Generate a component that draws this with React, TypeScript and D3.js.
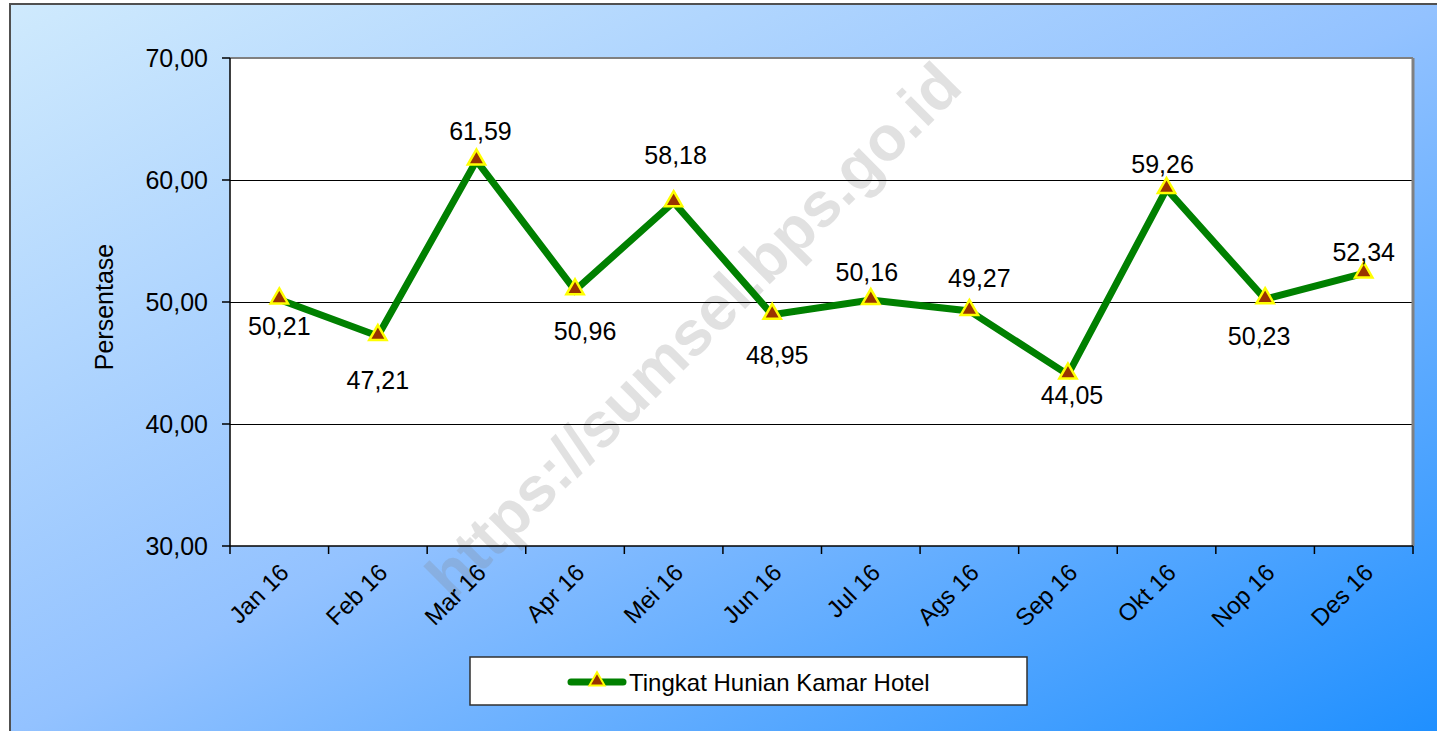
import React from "react";
import * as d3 from "d3";

const categories = ["Jan 16", "Feb 16", "Mar 16", "Apr 16", "Mei 16", "Jun 16", "Jul 16", "Ags 16", "Sep 16", "Okt 16", "Nop 16", "Des 16"];
const values = [50.21, 47.21, 61.59, 50.96, 58.18, 48.95, 50.16, 49.27, 44.05, 59.26, 50.23, 52.34];
const yTicks = [30, 40, 50, 60, 70];
const seriesName = "Tingkat Hunian Kamar Hotel";
const yTitle = "Persentase";
const watermark = "https://sumsel.bps.go.id";
// label placement offsets (layout only)
const labelDx = [0, 0, 4, 10, 2, 5, -4, 10, 4, -4, -6, 0];
const labelDy = [27, 44, -30, 41, -47, 40, -28, -33, 20, -25, 37, -21];

const W = 1437, H = 731;
const plot = { left: 230, right: 1413, top: 58, bottom: 546 };
const FONT = "Liberation Sans, Arial, sans-serif";

export default function App() {
  const x = d3.scaleBand().domain(categories).range([plot.left, plot.right]).padding(0);
  const y = d3.scaleLinear().domain([30, 70]).range([plot.bottom, plot.top]);
  const cx = (c: string) => (x(c) as number) + x.bandwidth() / 2;
  const line = d3.line<number>().x((_, i) => cx(categories[i])).y((v) => y(v));
  const tri = d3.symbol().type(d3.symbolTriangle).size(130)() as string;
  const boundaries = d3.range(categories.length + 1).map((i) => plot.left + i * x.bandwidth());

  return (
    <svg width={W} height={H} style={{ position: "absolute", left: 0, top: 0 }} fontFamily={FONT}>
      <defs>
        <linearGradient id="bg" x1="0" y1="0" x2="1" y2="1">
          <stop offset="0" stopColor="#cfeafd" />
          <stop offset="0.5" stopColor="#93c2ff" />
          <stop offset="1" stopColor="#1e8fff" />
        </linearGradient>
      </defs>
      <rect x={10} y={4} width={W} height={H} fill="url(#bg)" stroke="#505050" strokeWidth={2} />
      {/* plot area */}
      <rect x={plot.left} y={plot.top} width={plot.right - plot.left} height={plot.bottom - plot.top} fill="#ffffff" />
      {/* watermark */}
      <text
        x={693}
        y={330}
        transform="rotate(-45 693 330)"
        textAnchor="middle"
        dominantBaseline="central"
        fontSize={63}
        fontWeight="bold"
        fill="#808080"
        fillOpacity={0.24}
      >
        {watermark}
      </text>
      {/* gridlines */}
      {yTicks.filter((t) => t !== 30 && t !== 70).map((t) => (
        <line key={t} x1={plot.left} x2={plot.right} y1={y(t) + 0.5} y2={y(t) + 0.5} stroke="#000" strokeWidth={1} />
      ))}
      {/* plot border top/right */}
      <line x1={plot.left} x2={plot.right} y1={plot.top} y2={plot.top} stroke="#808080" strokeWidth={2} />
      <line x1={plot.right} x2={plot.right} y1={plot.top} y2={plot.bottom} stroke="#808080" strokeWidth={3} />
      {/* axes */}
      <line x1={plot.left} x2={plot.left} y1={plot.top} y2={plot.bottom} stroke="#000" strokeWidth={1.5} />
      <line x1={plot.left} x2={plot.right} y1={plot.bottom} y2={plot.bottom} stroke="#000" strokeWidth={1.5} />
      {yTicks.map((t) => (
        <g key={t}>
          <line x1={plot.left - 8} x2={plot.left} y1={y(t)} y2={y(t)} stroke="#000" strokeWidth={1.5} />
          <text x={208} y={y(t)} textAnchor="end" dominantBaseline="central" fontSize={25} fill="#000">
            {d3.format(".2f")(t).replace(".", ",")}
          </text>
        </g>
      ))}
      {boundaries.map((b, i) => (
        <line key={i} x1={b} x2={b} y1={plot.bottom} y2={plot.bottom + 8} stroke="#000" strokeWidth={1.5} />
      ))}
      {categories.map((c) => (
        <text
          key={c}
          x={cx(c) + 5}
          y={plot.bottom + 22}
          transform={`rotate(-45 ${cx(c) + 5} ${plot.bottom + 22})`}
          textAnchor="end"
          dominantBaseline="central"
          fontSize={24}
          fill="#000"
        >
          {c}
        </text>
      ))}
      <text
        x={104}
        y={307}
        transform="rotate(-90 104 307)"
        textAnchor="middle"
        dominantBaseline="central"
        fontSize={25}
        fill="#000"
      >
        {yTitle}
      </text>
      {/* series */}
      <path d={line(values) as string} fill="none" stroke="#008000" strokeWidth={7} strokeLinejoin="miter" />
      {values.map((v, i) => (
        <path
          key={i}
          d={tri}
          transform={`translate(${cx(categories[i])},${y(v) - 1})`}
          fill="#993300"
          stroke="#ffff00"
          strokeWidth={2.5}
        />
      ))}
      {values.map((v, i) => (
        <text
          key={"l" + i}
          x={cx(categories[i]) + labelDx[i]}
          y={y(v) + labelDy[i]}
          textAnchor="middle"
          dominantBaseline="central"
          fontSize={25}
          fill="#000"
        >
          {d3.format(".2f")(v).replace(".", ",")}
        </text>
      ))}
      {/* legend */}
      <rect x={470} y={657} width={557} height={48} fill="#fff" stroke="#303030" strokeWidth={1.5} />
      <line x1={571} x2={623} y1={682} y2={682} stroke="#008000" strokeWidth={7} strokeLinecap="round" />
      <path d={d3.symbol().type(d3.symbolTriangle).size(100)() as string} transform="translate(597,681)" fill="#993300" stroke="#ffff00" strokeWidth={2} />
      <text x={629} y={682} dominantBaseline="central" fontSize={24} fill="#000">
        {seriesName}
      </text>
    </svg>
  );
}
